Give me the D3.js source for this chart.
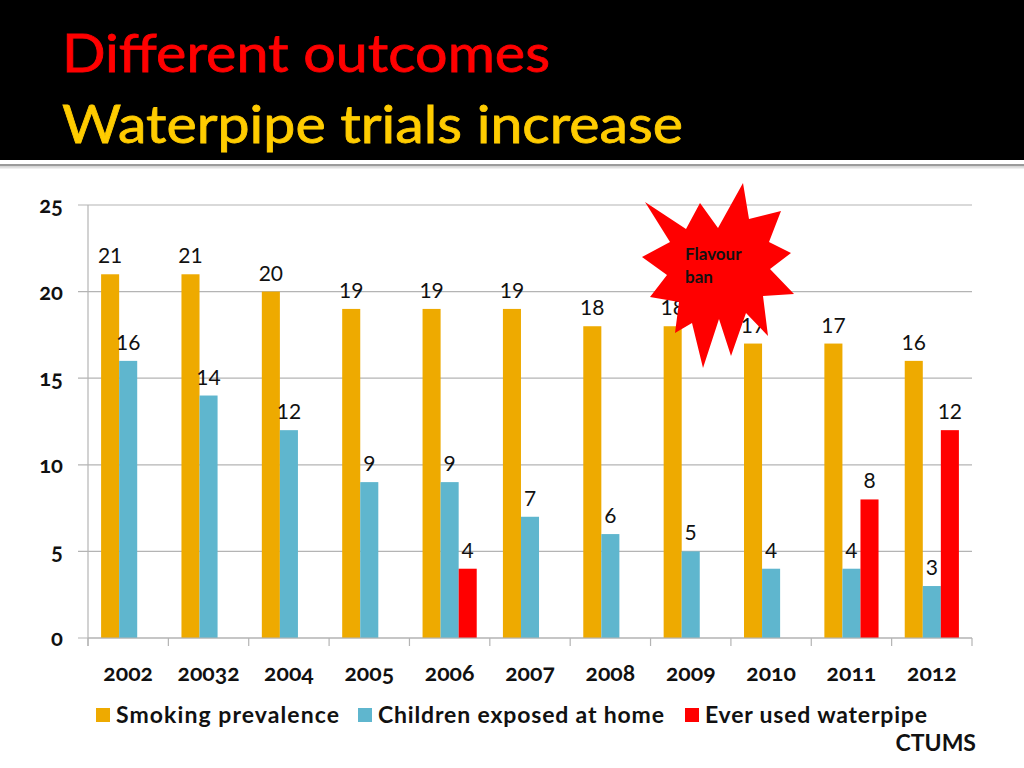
<!DOCTYPE html>
<html>
<head>
<meta charset="utf-8">
<script src="https://cdn.jsdelivr.net/npm/d3@7"></script>
<style>
  html, body { margin: 0; padding: 0; background: #fff; }
  svg { display: block; }
  text { font-family: Lato, "Open Sans", sans-serif; }
</style>
</head>
<body>
<svg id="chart" width="1024" height="768"></svg>
<script>
const categories = ["2002", "20032", "2004", "2005", "2006", "2007", "2008", "2009", "2010", "2011", "2012"];
const seriesNames = ["Smoking prevalence", "Children exposed at home", "Ever used waterpipe"];
const smoking   = [21, 21, 20, 19, 19, 19, 18, 18, 17, 17, 16];
const children  = [16, 14, 12, 9, 9, 7, 6, 5, 4, 4, 3];
const waterpipe = [null, null, null, null, 4, null, null, null, null, 8, 12];
const yTicks = [0, 5, 10, 15, 20, 25];
const colors = ["#EEAA00", "#5FB6CE", "#FF0000"];
const titleLine1 = "Different outcomes";
const titleLine2 = "Waterpipe trials increase";
const starLabel = ["Flavour", "ban"];
const sourceLabel = "CTUMS";
// starburst annotation outline (decorative callout)
const starPoints = [[743,183],[749,219],[781,211],[769,242],[791,253],[770,269],[794,294],[763,296],[768,336],[746,313],[731,356],[719,319],[703,368],[692,323],[675,333],[679,302],[650,297],[667,275],[642,257],[670,242],[645,202],[686,229],[700,203],[718,228]];

const series = [smoking, children, waterpipe];
const svg = d3.select("#chart");

// Header band
svg.append("rect").attr("x", 0).attr("y", 0).attr("width", 1024).attr("height", 160).attr("fill", "#000");
svg.append("rect").attr("x", 0).attr("y", 164).attr("width", 1024).attr("height", 2.5).attr("fill", "#9a9a9a");
svg.append("rect").attr("x", 0).attr("y", 166.5).attr("width", 1024).attr("height", 2).attr("fill", "#e0e0e0");

svg.append("text").attr("x", 62).attr("y", 72).attr("fill", "#FF0000")
  .attr("font-size", 53).attr("font-weight", 400)
  .style("paint-order", "stroke").attr("stroke", "#FF0000").attr("stroke-width", 0.8)
  .attr("textLength", 488).attr("lengthAdjust", "spacingAndGlyphs")
  .text(titleLine1);
svg.append("text").attr("x", 62).attr("y", 143).attr("fill", "#FFCC00")
  .attr("font-size", 53).attr("font-weight", 400)
  .style("paint-order", "stroke").attr("stroke", "#FFCC00").attr("stroke-width", 0.8)
  .attr("textLength", 621).attr("lengthAdjust", "spacingAndGlyphs")
  .text(titleLine2);

// Scales
const plotLeft = 88, plotRight = 972, plotTop = 205, plotBottom = 638;
const x0 = d3.scaleBand().domain(categories).range([plotLeft, plotRight]).padding(0);
const x1 = d3.scaleBand().domain(d3.range(series.length))
  .range([x0.bandwidth() * 0.163, x0.bandwidth() * 0.837]).padding(0);
const y = d3.scaleLinear().domain([0, 25]).range([plotBottom, plotTop]);

// Gridlines
svg.append("g").selectAll("line").data(yTicks).join("line")
  .attr("x1", plotLeft - 10).attr("x2", plotRight)
  .attr("y1", d => y(d)).attr("y2", d => y(d))
  .attr("stroke", "#b4b4b4").attr("stroke-width", 1.2);

// Y axis line
svg.append("line").attr("x1", plotLeft).attr("x2", plotLeft).attr("y1", plotTop).attr("y2", plotBottom + 8)
  .attr("stroke", "#b4b4b4").attr("stroke-width", 1.2);

// Y tick labels
svg.append("g").selectAll("text").data(yTicks).join("text")
  .attr("x", 63).attr("y", d => y(d)).attr("dy", "0.36em")
  .attr("text-anchor", "end").attr("font-size", 22).attr("font-weight", 700)
  .style("font-variant-numeric", "oldstyle-nums")
  .attr("fill", "#111").text(d => d);

// X axis ticks at category boundaries
const boundaries = categories.map(c => x0(c)).concat([plotRight]);
svg.append("g").selectAll("line").data(boundaries).join("line")
  .attr("x1", d => d).attr("x2", d => d).attr("y1", plotBottom).attr("y2", plotBottom + 8)
  .attr("stroke", "#b4b4b4").attr("stroke-width", 1.2);

// Bars
const groups = svg.append("g").selectAll("g").data(categories).join("g")
  .attr("transform", c => `translate(${x0(c)},0)`);

const cellData = (c, i) => series.map((s, k) => ({ k, v: s[i] })).filter(d => d.v != null);

groups.selectAll("rect").data((c, i) => cellData(c, i)).join("rect")
  .attr("x", d => x1(d.k)).attr("width", x1.bandwidth())
  .attr("y", d => y(d.v)).attr("height", d => y(0) - y(d.v))
  .attr("fill", d => colors[d.k]);

// X axis line
svg.append("line").attr("x1", plotLeft).attr("x2", plotRight).attr("y1", plotBottom).attr("y2", plotBottom)
  .attr("stroke", "#b4b4b4").attr("stroke-width", 1.2);

// Value labels
groups.selectAll("text.val").data((c, i) => cellData(c, i)).join("text")
  .attr("class", "val")
  .attr("x", d => x1(d.k) + x1.bandwidth() / 2)
  .attr("y", d => y(d.v) - 11)
  .attr("text-anchor", "middle").attr("font-size", 21).attr("fill", "#111")
  .text(d => d.v);

// X labels
svg.append("g").selectAll("text").data(categories).join("text")
  .attr("x", c => x0(c) + x0.bandwidth() / 2).attr("y", 681)
  .attr("text-anchor", "middle").attr("font-size", 23).attr("font-weight", 700)
  .style("font-variant-numeric", "oldstyle-nums")
  .attr("fill", "#111").text(c => c);

// Legend
const legendX = [96, 358, 685];
const legendTextW = [223, 286, 222];
const legend = svg.append("g").selectAll("g").data(seriesNames).join("g")
  .attr("transform", (d, i) => `translate(${legendX[i]},708)`);
legend.append("rect").attr("width", 14).attr("height", 14).attr("fill", (d, i) => colors[i]);
legend.append("text").attr("x", 20).attr("y", 7).attr("dy", "0.36em")
  .attr("font-size", 23).attr("font-weight", 700).attr("fill", "#111")
  .attr("textLength", (d, i) => legendTextW[i]).attr("lengthAdjust", "spacing")
  .text(d => d);

svg.append("text").attr("x", 976).attr("y", 751).attr("text-anchor", "end")
  .attr("font-size", 23).attr("font-weight", 700).attr("fill", "#111").text(sourceLabel);

// Starburst annotation
svg.append("polygon").attr("points", starPoints.map(p => p.join(",")).join(" "))
  .attr("fill", "#FF0000");
svg.append("g").selectAll("text").data(starLabel).join("text")
  .attr("x", 685).attr("y", (d, i) => 260 + i * 23)
  .attr("font-size", 17).attr("font-weight", 700).attr("fill", "#111").text(d => d);
</script>
</body>
</html>
